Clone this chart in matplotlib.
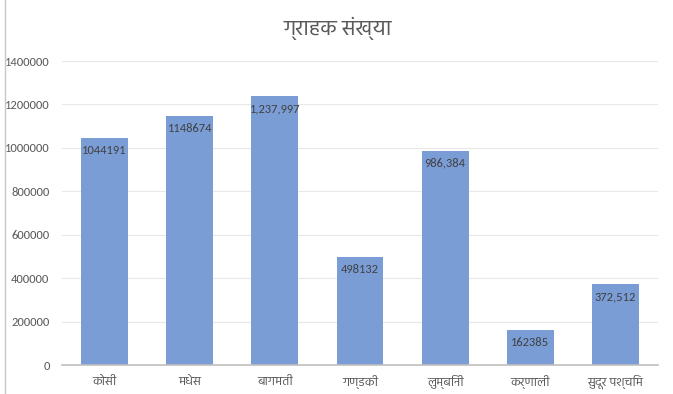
import matplotlib
matplotlib.use("Agg")
import matplotlib.pyplot as plt
from matplotlib.lines import Line2D

DEVA = ['Hind', 'Noto Sans Devanagari', 'Mukta', 'DejaVu Sans']
NUM = ['Carlito', 'Liberation Sans', 'DejaVu Sans']

title = "ग्राहक संख्या"
provinces = ["कोसी", "मधेस", "बागमती", "गण्डकी", "लुम्बिनी", "कर्णाली", "सुदूर पश्चिम"]
customers = [1044191, 1148674, 1237997, 498132, 986384, 162385, 372512]
value_labels = ["1044191", "1148674", "1,237,997", "498132", "986,384", "162385", "372,512"]
yticks = [0, 200000, 400000, 600000, 800000, 1000000, 1200000, 1400000]

fig = plt.figure(figsize=(6.73, 3.94), dpi=100)
ax = fig.add_axes([62 / 673, 1 - 365 / 394, 596 / 673, 304 / 394])

x = range(len(provinces))
bars = ax.bar(x, customers, width=0.55, color="#7b9dd6", zorder=2)
for b, lab in zip(bars, value_labels):
    ax.annotate(lab, (b.get_x() + b.get_width() / 2, b.get_height()),
                xytext=(0, -5), textcoords="offset points", ha="center", va="top",
                fontsize=9, color="#404040", family=NUM)

ax.set_xlim(-0.5, len(provinces) - 0.5)
ax.set_ylim(0, 1400000)
ax.set_yticks(yticks)
ax.set_yticklabels([str(v) for v in yticks], fontsize=9, color="#595959", family=NUM)
ax.set_xticks(list(x))
ax.set_xticklabels(provinces, fontsize=9, color="#595959", family=DEVA)
ax.tick_params(axis="y", length=0, pad=9)
ax.tick_params(axis="x", length=0, pad=7)
ax.grid(axis="y", color="#e8e8e8", linewidth=0.8, zorder=0)
for s in ["left", "right", "top"]:
    ax.spines[s].set_visible(False)
ax.spines["bottom"].set_color("#bfbfbf")
ax.spines["bottom"].set_linewidth(1.2)

fig.text(338 / 673, 1 - 28 / 394, title, ha="center", va="center",
         fontsize=15.5, color="#595959", family=DEVA)
# sheet edge line at the far left
fig.add_artist(Line2D([5 / 673, 5 / 673], [0, 1], color="#c8c8c8", linewidth=1))

fig.savefig("out.png", dpi=100)
